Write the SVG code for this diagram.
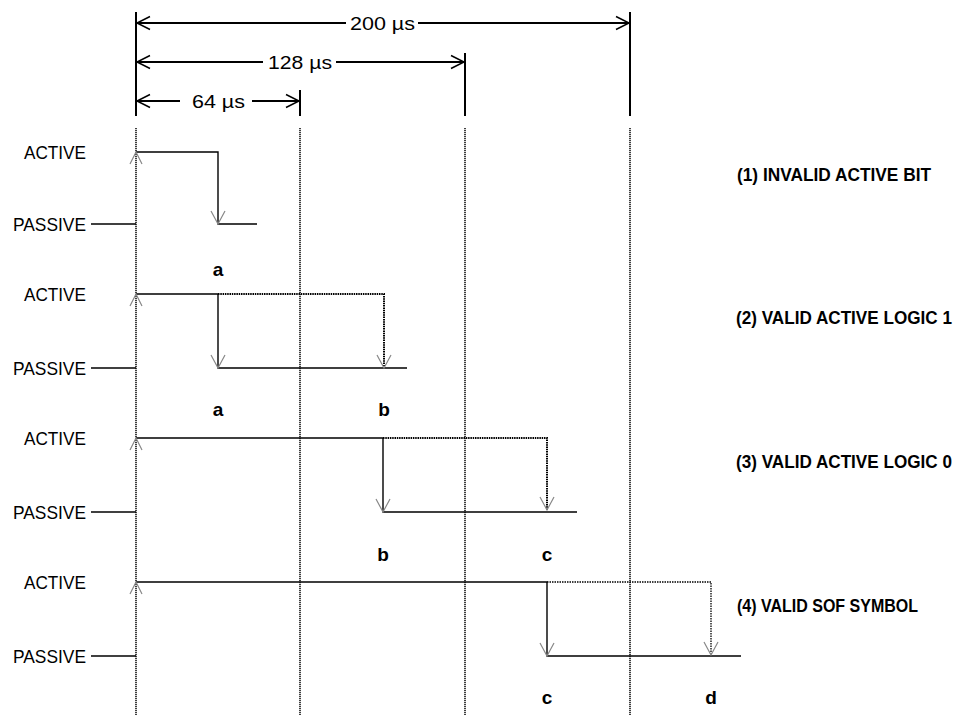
<svg xmlns="http://www.w3.org/2000/svg" xmlns:xlink="http://www.w3.org/1999/xlink" width="961" height="715" viewBox="0 0 961 715">
<style>
.lbl{font-family:"Liberation Sans",Arial,sans-serif;font-size:18.5px;fill:#000}
.bold{font-family:"Liberation Sans",Arial,sans-serif;font-size:19px;font-weight:bold;fill:#000}
.title{font-family:"Liberation Sans",Arial,sans-serif;font-size:17.5px;font-weight:bold;fill:#000}
.dim{font-family:"Liberation Sans",Arial,sans-serif;font-size:19px;fill:#000}
.grid{stroke:#000;stroke-width:1.5;stroke-dasharray:1.2 0.8;fill:none}
.tick{stroke:#000;stroke-width:2;fill:none}
.wave{stroke:#000;stroke-width:1.4;fill:none}
.dot{stroke:#000;stroke-width:2;stroke-dasharray:1.5 0.8;fill:none}
.dot4{stroke:#000;stroke-width:1.3;stroke-dasharray:1.5 1;fill:none}
.head{stroke:#888;stroke-width:1.2;fill:none}
.dhead{stroke:#000;stroke-width:1.5;fill:none}
</style>
<defs>
<path id="up" d="M-6,12 L0,0 L6,12" class="head"/>
<path id="down" d="M-7,-13 L0,0 L7,-13" class="head"/>
<path id="dl" d="M13,-6.5 L0,0 L13,6.5" class="dhead"/>
<path id="dr" d="M-13,-6.5 L0,0 L-13,6.5" class="dhead"/>
</defs>

<g id="grid">
<line class="tick" x1="136" y1="12" x2="136" y2="116"/>
<line class="tick" x1="300" y1="90" x2="300" y2="116"/>
<line class="tick" x1="465" y1="53" x2="465" y2="116"/>
<line class="tick" x1="630" y1="12" x2="630" y2="116"/>
<line class="grid" x1="136" y1="128" x2="136" y2="715"/>
<line class="grid" x1="300" y1="128" x2="300" y2="715"/>
<line class="grid" x1="465" y1="128" x2="465" y2="715"/>
<line class="grid" x1="630" y1="128" x2="630" y2="715"/>
</g>

<g id="dimensions">
<g id="dim-200">
<line class="tick" x1="137" y1="23" x2="346" y2="23"/>
<line class="tick" x1="418" y1="23" x2="629" y2="23"/>
<use xlink:href="#dl" x="137" y="23"/>
<use xlink:href="#dr" x="629" y="23"/>
<text class="dim" x="382.5" y="30" text-anchor="middle" textLength="65" lengthAdjust="spacingAndGlyphs">200 µs</text>
</g>
<g id="dim-128">
<line class="tick" x1="137" y1="62" x2="263" y2="62"/>
<line class="tick" x1="336" y1="62" x2="464" y2="62"/>
<use xlink:href="#dl" x="137" y="62"/>
<use xlink:href="#dr" x="464" y="62"/>
<text class="dim" x="300" y="69" text-anchor="middle" textLength="64" lengthAdjust="spacingAndGlyphs">128 µs</text>
</g>
<g id="dim-64">
<line class="tick" x1="137" y1="101" x2="180" y2="101"/>
<line class="tick" x1="252" y1="101" x2="299" y2="101"/>
<use xlink:href="#dl" x="137" y="101"/>
<use xlink:href="#dr" x="299" y="101"/>
<text class="dim" x="218.5" y="108" text-anchor="middle" textLength="53" lengthAdjust="spacingAndGlyphs">64 µs</text>
</g>
</g>

<g id="row1">
<text class="lbl" x="86" y="159" text-anchor="end" textLength="62" lengthAdjust="spacingAndGlyphs">ACTIVE</text>
<text class="lbl" x="86" y="231" text-anchor="end" textLength="73" lengthAdjust="spacingAndGlyphs">PASSIVE</text>
<path class="wave" d="M91,224 H136"/>
<path class="wave" d="M136,152 H218 V224 H257"/>
<use xlink:href="#up" x="136" y="152"/>
<use xlink:href="#down" x="218" y="224"/>
<text class="bold" x="218" y="276" text-anchor="middle">a</text>
<text class="title" x="737" y="181" textLength="194" lengthAdjust="spacingAndGlyphs">(1) INVALID ACTIVE BIT</text>
</g>

<g id="row2">
<text class="lbl" x="86" y="301" text-anchor="end" textLength="62" lengthAdjust="spacingAndGlyphs">ACTIVE</text>
<text class="lbl" x="86" y="375" text-anchor="end" textLength="73" lengthAdjust="spacingAndGlyphs">PASSIVE</text>
<path class="wave" d="M91,368 H136"/>
<path class="wave" d="M136,294 H218 V368 H407"/>
<path class="dot" d="M218,294 H384 V366"/>
<use xlink:href="#up" x="136" y="294"/>
<use xlink:href="#down" x="218" y="368"/>
<use xlink:href="#down" x="384" y="368"/>
<text class="bold" x="218" y="416" text-anchor="middle">a</text>
<text class="bold" x="384" y="416" text-anchor="middle">b</text>
<text class="title" x="736" y="324" textLength="216" lengthAdjust="spacingAndGlyphs">(2) VALID ACTIVE LOGIC 1</text>
</g>

<g id="row3">
<text class="lbl" x="86" y="445" text-anchor="end" textLength="62" lengthAdjust="spacingAndGlyphs">ACTIVE</text>
<text class="lbl" x="86" y="519" text-anchor="end" textLength="73" lengthAdjust="spacingAndGlyphs">PASSIVE</text>
<path class="wave" d="M91,512 H136"/>
<path class="wave" d="M136,438 H383 V512 H577"/>
<path class="dot" d="M383,438 H547 V510"/>
<use xlink:href="#up" x="136" y="438"/>
<use xlink:href="#down" x="383" y="512"/>
<use xlink:href="#down" x="547" y="510"/>
<text class="bold" x="383" y="561" text-anchor="middle">b</text>
<text class="bold" x="547" y="561" text-anchor="middle">c</text>
<text class="title" x="736" y="468" textLength="216" lengthAdjust="spacingAndGlyphs">(3) VALID ACTIVE LOGIC 0</text>
</g>

<g id="row4">
<text class="lbl" x="86" y="589" text-anchor="end" textLength="62" lengthAdjust="spacingAndGlyphs">ACTIVE</text>
<text class="lbl" x="86" y="663" text-anchor="end" textLength="73" lengthAdjust="spacingAndGlyphs">PASSIVE</text>
<path class="wave" d="M91,656 H136"/>
<path class="wave" d="M136,582 H547 V656 H741"/>
<path class="dot4" d="M547,582 H711 V654"/>
<use xlink:href="#up" x="136" y="582"/>
<use xlink:href="#down" x="547" y="656"/>
<use xlink:href="#down" x="711" y="655"/>
<text class="bold" x="547" y="704" text-anchor="middle">c</text>
<text class="bold" x="711" y="704" text-anchor="middle">d</text>
<text class="title" x="737" y="612" textLength="181" lengthAdjust="spacingAndGlyphs">(4) VALID SOF SYMBOL</text>
</g>
</svg>
